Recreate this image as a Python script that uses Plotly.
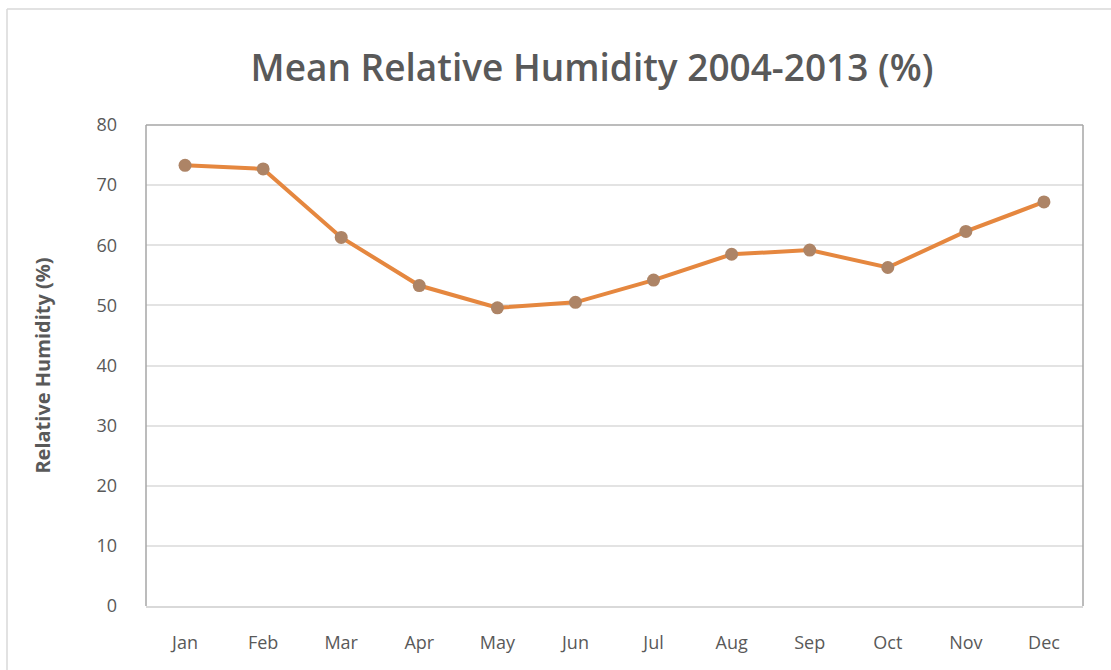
import plotly.graph_objects as go

months = ["Jan", "Feb", "Mar", "Apr", "May", "Jun", "Jul", "Aug", "Sep", "Oct", "Nov", "Dec"]
humidity = [73.3, 72.7, 61.3, 53.3, 49.6, 50.5, 54.2, 58.5, 59.2, 56.3, 62.3, 67.2]
y_ticks = [0, 10, 20, 30, 40, 50, 60, 70, 80]

W, H = 1111, 670
L, R, T, B = 146, 28, 125, 64

fig = go.Figure()
fig.add_trace(go.Scatter(
    x=list(range(len(months))), y=humidity, mode="lines+markers",
    line=dict(color="#E5873F", width=4),
    marker=dict(color="#AD8466", size=13, line=dict(width=0)),
    showlegend=False,
))

fig.update_layout(
    width=W, height=H,
    margin=dict(l=L, r=R, t=T, b=B),
    paper_bgcolor="white", plot_bgcolor="white",
    font=dict(family="Open Sans, Noto Sans, sans-serif", color="#595959"),
    title=dict(text="Mean Relative Humidity 2004-2013 (%)", x=592 / W, xanchor="center",
               y=1 - 68 / H, yanchor="middle",
               font=dict(size=37, color="#595959", family="Open Sans, sans-serif", weight=600)),
    xaxis=dict(
        tickmode="array", tickvals=list(range(len(months))), ticktext=months,
        range=[-0.5, 11.5], showgrid=False, zeroline=False,
        showline=True, linecolor="#D9D9D9", linewidth=1.5,
        ticks="", tickfont=dict(size=18, color="#595959"), ticklabelstandoff=20,
        mirror=False,
    ),
    yaxis=dict(
        range=[0, 80], tickvals=y_ticks, showgrid=True, gridcolor="#E3E3E3", gridwidth=1.5,
        zeroline=False, showline=False, ticks="",
        tickfont=dict(size=18, color="#595959"), ticklabelstandoff=28,
        title=dict(text="<b>Relative Humidity (%)</b>", font=dict(size=20, color="#595959"), standoff=40),
    ),
    shapes=[
        dict(type="line", xref="paper", yref="paper", x0=0, x1=0, y0=0, y1=1,
             line=dict(color="#A6A6A6", width=1.5)),
        dict(type="line", xref="paper", yref="paper", x0=0, x1=1, y0=1, y1=1,
             line=dict(color="#A6A6A6", width=1.5)),
        dict(type="line", xref="paper", yref="paper", x0=1, x1=1, y0=0, y1=1,
             line=dict(color="#A6A6A6", width=1.5)),
        dict(type="line", xref="paper", yref="paper",
             x0=(7 - L) / (W - L - R), x1=(W - L) / (W - L - R),
             y0=(H - 9 - B) / (H - T - B), y1=(H - 9 - B) / (H - T - B),
             line=dict(color="#D9D9D9", width=1.5)),
        dict(type="line", xref="paper", yref="paper",
             x0=(7 - L) / (W - L - R), x1=(7 - L) / (W - L - R),
             y0=(-B) / (H - T - B), y1=(H - 9 - B) / (H - T - B),
             line=dict(color="#D9D9D9", width=1.5)),
    ],
)

fig.write_html("out.html")
